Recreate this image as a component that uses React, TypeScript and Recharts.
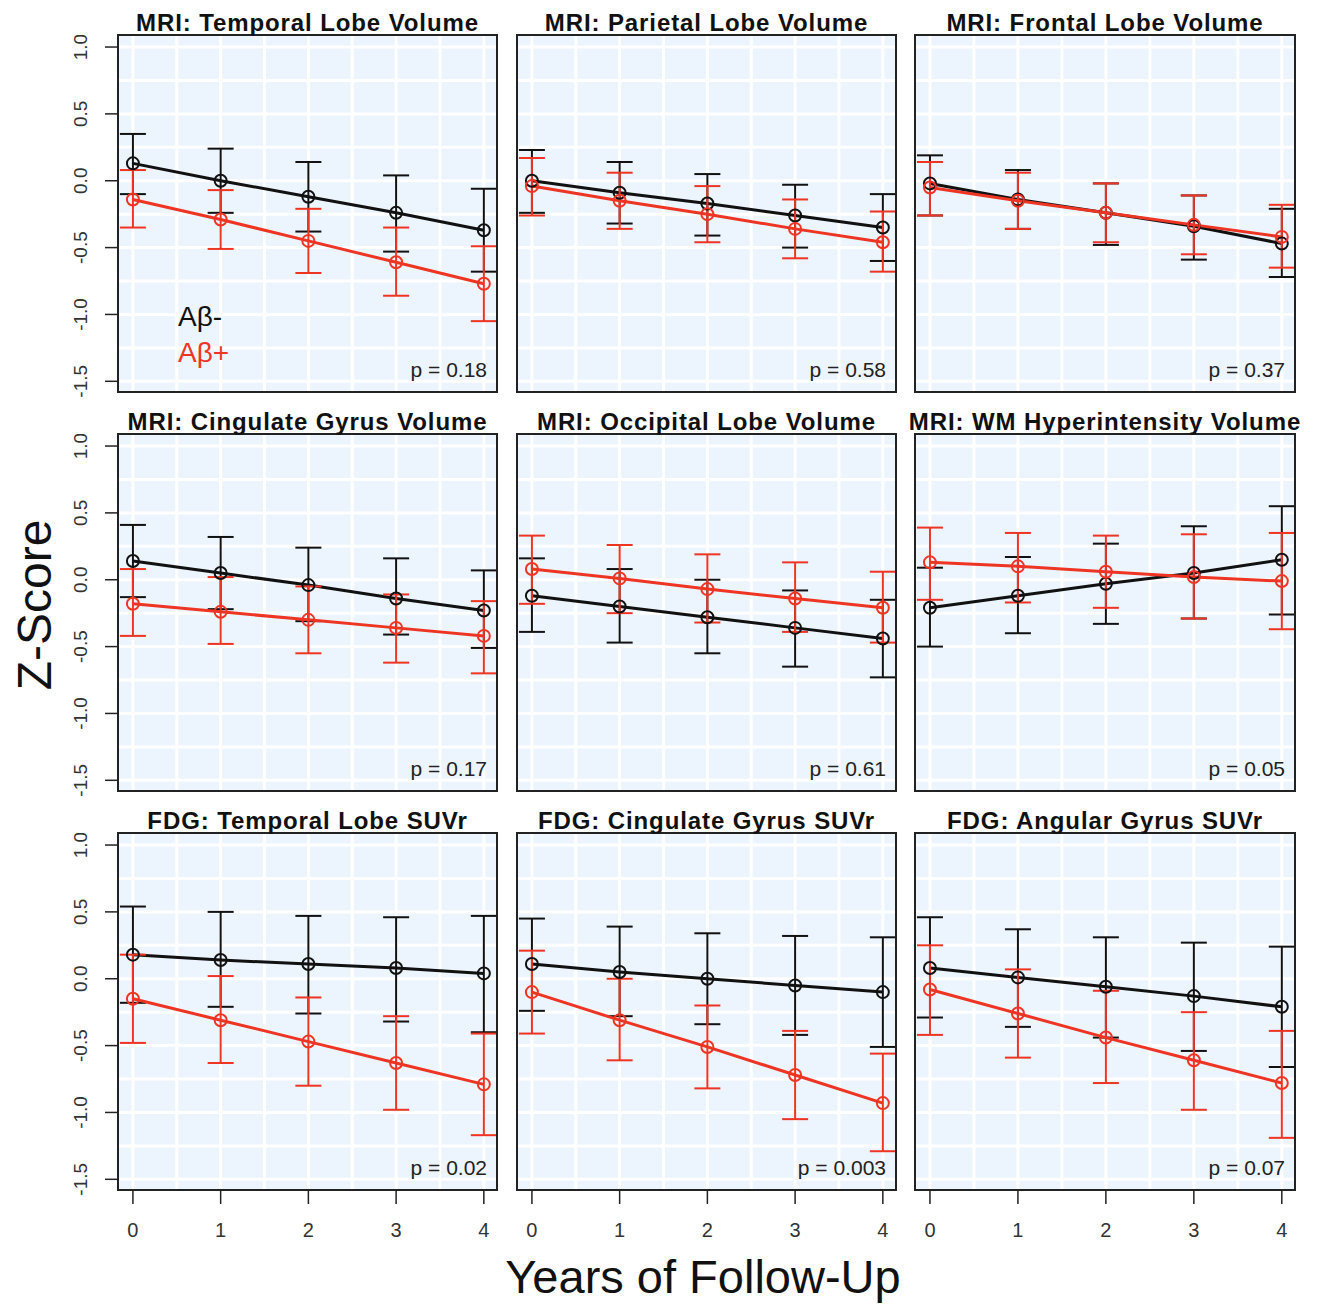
import React from 'react';
import { LineChart, Line, XAxis, YAxis, CartesianGrid, ErrorBar } from 'recharts';

// each entry: [mean, lower, upper]
type Stat = [number, number, number];

const years = [0, 1, 2, 3, 4];
const xTicks = [0, 1, 2, 3, 4];
const yTicks = [-1.5, -1, -0.5, 0, 0.5, 1];
const gridX = [0, 0.5, 1, 1.5, 2, 2.5, 3, 3.5, 4];
const gridY = [-1.5, -1.25, -1, -0.75, -0.5, -0.25, 0, 0.25, 0.5, 0.75, 1];

const titles = [
  'MRI: Temporal Lobe Volume',
  'MRI: Parietal Lobe Volume',
  'MRI: Frontal Lobe Volume',
  'MRI: Cingulate Gyrus Volume',
  'MRI: Occipital Lobe Volume',
  'MRI: WM Hyperintensity Volume',
  'FDG: Temporal Lobe SUVr',
  'FDG: Cingulate Gyrus SUVr',
  'FDG: Angular Gyrus SUVr',
];
const pValues = ['0.18', '0.58', '0.37', '0.17', '0.61', '0.05', '0.02', '0.003', '0.07'];

// Aβ- (black)
const mriTemporalNeg: Stat[] = [[0.13, -0.1, 0.35], [0.0, -0.24, 0.24], [-0.12, -0.38, 0.14], [-0.24, -0.53, 0.04], [-0.37, -0.68, -0.06]];
const mriParietalNeg: Stat[] = [[0.0, -0.24, 0.23], [-0.09, -0.32, 0.14], [-0.17, -0.41, 0.05], [-0.26, -0.5, -0.03], [-0.35, -0.6, -0.1]];
const mriFrontalNeg: Stat[] = [[-0.02, -0.26, 0.19], [-0.14, -0.36, 0.08], [-0.24, -0.48, -0.02], [-0.34, -0.59, -0.11], [-0.47, -0.72, -0.21]];
const mriCingulateNeg: Stat[] = [[0.14, -0.13, 0.41], [0.05, -0.22, 0.32], [-0.04, -0.31, 0.24], [-0.14, -0.41, 0.16], [-0.23, -0.51, 0.07]];
const mriOccipitalNeg: Stat[] = [[-0.12, -0.39, 0.16], [-0.2, -0.47, 0.08], [-0.28, -0.55, 0.0], [-0.36, -0.65, -0.08], [-0.44, -0.73, -0.15]];
const mriWmNeg: Stat[] = [[-0.21, -0.5, 0.09], [-0.12, -0.4, 0.17], [-0.03, -0.33, 0.27], [0.05, -0.29, 0.4], [0.15, -0.26, 0.55]];
const fdgTemporalNeg: Stat[] = [[0.18, -0.18, 0.54], [0.14, -0.21, 0.5], [0.11, -0.26, 0.47], [0.08, -0.32, 0.46], [0.04, -0.4, 0.47]];
const fdgCingulateNeg: Stat[] = [[0.11, -0.24, 0.45], [0.05, -0.28, 0.39], [0.0, -0.34, 0.34], [-0.05, -0.42, 0.32], [-0.1, -0.51, 0.31]];
const fdgAngularNeg: Stat[] = [[0.08, -0.29, 0.46], [0.01, -0.36, 0.37], [-0.06, -0.44, 0.31], [-0.13, -0.54, 0.27], [-0.21, -0.66, 0.24]];

// Aβ+ (red)
const mriTemporalPos: Stat[] = [[-0.14, -0.35, 0.08], [-0.29, -0.51, -0.07], [-0.45, -0.69, -0.21], [-0.61, -0.86, -0.35], [-0.77, -1.05, -0.49]];
const mriParietalPos: Stat[] = [[-0.04, -0.26, 0.17], [-0.15, -0.36, 0.06], [-0.25, -0.46, -0.04], [-0.36, -0.58, -0.14], [-0.46, -0.68, -0.23]];
const mriFrontalPos: Stat[] = [[-0.05, -0.26, 0.14], [-0.15, -0.36, 0.06], [-0.24, -0.46, -0.02], [-0.33, -0.55, -0.11], [-0.42, -0.65, -0.18]];
const mriCingulatePos: Stat[] = [[-0.18, -0.42, 0.08], [-0.24, -0.48, 0.02], [-0.3, -0.55, -0.05], [-0.36, -0.62, -0.11], [-0.42, -0.7, -0.16]];
const mriOccipitalPos: Stat[] = [[0.08, -0.18, 0.33], [0.01, -0.25, 0.26], [-0.07, -0.32, 0.19], [-0.14, -0.39, 0.13], [-0.21, -0.47, 0.06]];
const mriWmPos: Stat[] = [[0.13, -0.15, 0.39], [0.1, -0.17, 0.35], [0.06, -0.21, 0.33], [0.02, -0.29, 0.34], [-0.01, -0.37, 0.35]];
const fdgTemporalPos: Stat[] = [[-0.15, -0.48, 0.18], [-0.31, -0.63, 0.02], [-0.47, -0.8, -0.14], [-0.63, -0.98, -0.28], [-0.79, -1.17, -0.41]];
const fdgCingulatePos: Stat[] = [[-0.1, -0.41, 0.21], [-0.31, -0.61, 0.0], [-0.51, -0.82, -0.2], [-0.72, -1.05, -0.39], [-0.93, -1.29, -0.56]];
const fdgAngularPos: Stat[] = [[-0.08, -0.42, 0.25], [-0.26, -0.59, 0.07], [-0.44, -0.78, -0.09], [-0.61, -0.98, -0.25], [-0.78, -1.19, -0.39]];

const negSeries = [mriTemporalNeg, mriParietalNeg, mriFrontalNeg, mriCingulateNeg, mriOccipitalNeg, mriWmNeg, fdgTemporalNeg, fdgCingulateNeg, fdgAngularNeg];
const posSeries = [mriTemporalPos, mriParietalPos, mriFrontalPos, mriCingulatePos, mriOccipitalPos, mriWmPos, fdgTemporalPos, fdgCingulatePos, fdgAngularPos];

// layout
const COL_X = [118, 517, 915];
const COL_W = [379, 379, 380];
const ROW_Y = [35, 434, 833];
const BOX_H = 357;
const Y_AXIS_W = 60;
const X_AXIS_H = 60;
const PAD_BOTTOM = 24; // room for the rotated -1.5 label on rows without an x axis
const X_DOMAIN: [number, number] = [-0.17, 4.15];
const Y_DOMAIN: [number, number] = [-1.58, 1.09];

const FONT = '"Liberation Sans", Arial, Helvetica, sans-serif';
const BLACK = '#111111';
const RED = '#ee3524';

const RotatedTick = (props: { x?: number; y?: number; payload?: { value: number } }) => {
  const { x = 0, y = 0, payload } = props;
  return (
    <text
      x={x}
      y={y}
      transform={`rotate(-90 ${x} ${y})`}
      textAnchor="middle"
      fontSize={19}
      fontFamily={FONT}
      fill="#333"
    >
      {payload ? payload.value.toFixed(1) : ''}
    </text>
  );
};

function Panel({ idx }: { idx: number }) {
  const col = idx % 3;
  const row = Math.floor(idx / 3);
  const showY = col === 0;
  const showX = row === 2;
  const padBottom = showX ? 0 : PAD_BOTTOM;
  const neg = negSeries[idx];
  const pos = posSeries[idx];

  const data = years.map((year, i) => ({
    year,
    neg: neg[i][0],
    negErr: [neg[i][0] - neg[i][1], neg[i][2] - neg[i][0]],
    pos: pos[i][0],
    posErr: [pos[i][0] - pos[i][1], pos[i][2] - pos[i][0]],
  }));

  return (
    <div
      style={{
        position: 'absolute',
        left: COL_X[col] - (showY ? Y_AXIS_W : 0),
        top: ROW_Y[row],
      }}
    >
      <LineChart
        width={COL_W[col] + (showY ? Y_AXIS_W : 0)}
        height={BOX_H + (showX ? X_AXIS_H : padBottom)}
        data={data}
        margin={{ top: 0, right: 0, bottom: padBottom, left: 0 }}
      >
        <CartesianGrid
          fill="#ecf4fd"
          fillOpacity={1}
          stroke="#ffffff"
          strokeWidth={3}
          verticalValues={gridX}
          horizontalValues={gridY}
        />
        <XAxis
          dataKey="year"
          type="number"
          domain={X_DOMAIN}
          allowDataOverflow
          ticks={xTicks}
          hide={!showX}
          height={X_AXIS_H}
          axisLine={false}
          tickSize={14}
          tickMargin={19}
          tickLine={{ stroke: '#222', strokeWidth: 1.5 }}
          tick={{ fill: '#333', fontSize: 20, fontFamily: FONT }}
        />
        <YAxis
          type="number"
          domain={Y_DOMAIN}
          allowDataOverflow
          ticks={yTicks}
          hide={!showY}
          width={Y_AXIS_W}
          axisLine={false}
          tickSize={13}
          tickMargin={18}
          tickLine={{ stroke: '#222', strokeWidth: 1.5 }}
          tick={<RotatedTick />}
        />
        <Line
          dataKey="neg"
          stroke={BLACK}
          strokeWidth={3}
          dot={{ r: 6, stroke: BLACK, strokeWidth: 2, fill: 'none' }}
          activeDot={false}
          isAnimationActive={false}
        >
          <ErrorBar dataKey="negErr" direction="y" width={13} stroke={BLACK} strokeWidth={2} isAnimationActive={false} />
        </Line>
        <Line
          dataKey="pos"
          stroke={RED}
          strokeWidth={3}
          dot={{ r: 6, stroke: RED, strokeWidth: 2, fill: 'none' }}
          activeDot={false}
          isAnimationActive={false}
        >
          <ErrorBar dataKey="posErr" direction="y" width={13} stroke={RED} strokeWidth={2} isAnimationActive={false} />
        </Line>
      </LineChart>
    </div>
  );
}

export default function App() {
  const panels = titles.map((_, i) => i);
  return (
    <div
      style={{
        position: 'absolute',
        left: 0,
        top: 0,
        width: 1321,
        height: 1305,
        background: '#ffffff',
        overflow: 'hidden',
      }}
    >
      {panels.map((i) => (
        <Panel key={i} idx={i} />
      ))}
      <svg
        width={1321}
        height={1305}
        style={{ position: 'absolute', left: 0, top: 0, pointerEvents: 'none' }}
        fontFamily={FONT}
      >
        {panels.map((i) => {
          const col = i % 3;
          const row = Math.floor(i / 3);
          const x = COL_X[col];
          const y = ROW_Y[row];
          const w = COL_W[col];
          return (
            <g key={i}>
              <rect x={x} y={y} width={w} height={BOX_H} fill="none" stroke="#222" strokeWidth={2} />
              <text
                x={x + w / 2}
                y={y - 4}
                textAnchor="middle"
                fontSize={24}
                fontWeight="bold"
                letterSpacing={0.9}
                fill="#111"
              >
                {titles[i]}
              </text>
              <text x={x + w - 10} y={y + BOX_H - 15} textAnchor="end" fontSize={21} fill="#222">
                {`p = ${pValues[i]}`}
              </text>
            </g>
          );
        })}
        <text x={178} y={326} fontSize={28} fill={BLACK}>Aβ-</text>
        <text x={178} y={362} fontSize={28} fill={RED}>Aβ+</text>
        <text x={51} y={605} transform="rotate(-90 51 605)" textAnchor="middle" fontSize={48} fill="#111">
          Z-Score
        </text>
        <text x={703} y={1293} textAnchor="middle" fontSize={47} fill="#111">
          Years of Follow-Up
        </text>
      </svg>
    </div>
  );
}
